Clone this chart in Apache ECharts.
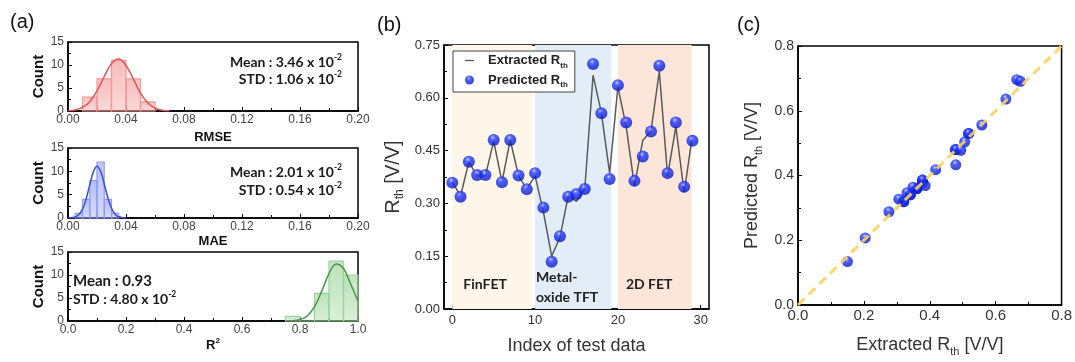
<!DOCTYPE html>
<html>
<head>
<meta charset="utf-8">
<script src="https://cdn.jsdelivr.net/npm/echarts@6/dist/echarts.min.js"></script>
<style>
  html, body { margin: 0; padding: 0; background: #fff; }
  #chart { width: 1075px; height: 362px; }
</style>
</head>
<body>
<div id="chart"></div>
<script>
// ---- (a) histograms: bin edges + counts, fitted curves
const rmseEdges = [0.01, 0.02, 0.03, 0.04, 0.05, 0.06]
const rmseCounts = [3, 7, 11, 7, 2]
const rmseFitX = [0, 0.005, 0.01, 0.015, 0.02, 0.025, 0.03, 0.035, 0.04, 0.045, 0.05, 0.055, 0.06, 0.065, 0.07]
const rmseFitY = [0.06, 0.23, 0.77, 2.0, 4.4, 7.5, 10.3, 11.3, 9.9, 7.0, 3.9, 1.8, 0.64, 0.18, 0.04]

const maeEdges = [0.005, 0.01, 0.015, 0.02, 0.025, 0.03, 0.035]
const maeCounts = [1, 4, 8, 12, 4, 1]
const maeFitX = [0, 0.005, 0.0075, 0.01, 0.0125, 0.015, 0.0175, 0.02, 0.0225, 0.025, 0.0275, 0.03, 0.0325, 0.035, 0.04]
const maeFitY = [0.01, 0.22, 0.73, 1.9, 4.1, 7.1, 9.9, 11.1, 10.0, 7.3, 4.3, 2.1, 0.79, 0.25, 0.01]

const r2Edges = [0.75, 0.8, 0.85, 0.9, 0.95, 1.0]
const r2Counts = [1, 0, 6, 13, 10]
const r2FitX = [0.78, 0.8, 0.825, 0.85, 0.875, 0.9, 0.925, 0.95, 0.975, 1.0]
const r2FitY = [0.09, 0.32, 1.1, 3.1, 6.5, 10.3, 12.4, 11.4, 8.0, 4.3]

// ---- (b) test data
const testIndex = [0, 1, 2, 3, 4, 5, 6, 7, 8, 9, 10, 11, 12, 13, 14, 15, 16, 17, 18, 19, 20, 21, 22, 23, 24, 25, 26, 27, 28, 29]
const extractedRth = [0.361, 0.321, 0.418, 0.378, 0.378, 0.477, 0.361, 0.480, 0.378, 0.341,
  0.378, 0.276, 0.150, 0.204, 0.321, 0.306, 0.341, 0.664, 0.558, 0.386,
  0.631, 0.518, 0.349, 0.479, 0.506, 0.675, 0.378, 0.518, 0.331, 0.494]
const predictedRth = [0.359, 0.319, 0.418, 0.381, 0.381, 0.480, 0.360, 0.480, 0.379, 0.340,
  0.386, 0.288, 0.134, 0.207, 0.319, 0.327, 0.341, 0.696, 0.556, 0.369,
  0.636, 0.530, 0.364, 0.433, 0.504, 0.691, 0.386, 0.530, 0.347, 0.478]
const deviceNames = ['FinFET', 'Metal-\noxide TFT', '2D FET']
const deviceStart = [0, 10, 20]
const deviceEnd = [9.6, 19.2, 28.9]

// ---- (c) parity line
const identityLine = [0, 0.8]

const FONT = 'Liberation Sans'
const BOLD = 'Lato'

// shiny blue ball marker
const ball = {
  type: 'radial', x: 0.42, y: 0.3, r: 0.6,
  colorStops: [
    { offset: 0, color: '#ffffff' },
    { offset: 0.14, color: '#6a78ff' },
    { offset: 0.42, color: '#1f34ff' },
    { offset: 1, color: '#0d1ec8' },
  ],
}

const toBins = (edges, counts) => counts.map((c, i) => [edges[i], edges[i + 1], c])
const toPairs = (xs, ys) => xs.map((x, i) => [x, ys[i]])

const histBars = (idx, edges, counts, fill, stroke) => ({
  type: 'custom',
  xAxisIndex: idx,
  yAxisIndex: idx,
  encode: { x: [0, 1], y: 2 },
  data: toBins(edges, counts),
  renderItem: (params, api) => {
    const p0 = api.coord([api.value(0), api.value(2)])
    const p1 = api.coord([api.value(1), 0])
    return {
      type: 'rect',
      shape: { x: p0[0], y: p0[1], width: p1[0] - p0[0], height: p1[1] - p0[1] },
      style: {
        fill: {
          type: 'linear', x: 0, y: 0, x2: 0, y2: 1,
          colorStops: [{ offset: 0, color: fill[0] }, { offset: 1, color: fill[1] }],
        },
        stroke,
        lineWidth: 1.2,
      },
    }
  },
  z: 2,
})

const histFit = (idx, xs, ys, color, area) => ({
  type: 'line',
  xAxisIndex: idx,
  yAxisIndex: idx,
  data: toPairs(xs, ys),
  smooth: 0.4,
  showSymbol: false,
  lineStyle: { color, width: 1.5 },
  areaStyle: { color: area },
  z: 3,
})

const frameX = (idx, max, interval, decimals, name, nameGap, labelSize) => ({
  type: 'value',
  gridIndex: idx,
  min: 0,
  max,
  interval,
  name,
  nameLocation: 'middle',
  nameGap,
  axisLine: { show: true, onZero: false, lineStyle: { color: '#000', width: 1.5 } },
  axisTick: { show: true, inside: true, length: 4, lineStyle: { color: '#000' } },
  minorTick: { show: true, splitNumber: 2, length: 3, lineStyle: { color: '#000' } },
  axisLabel: {
    fontFamily: FONT, fontSize: labelSize, color: '#444', margin: 3,
    formatter: (v) => v.toFixed(decimals),
  },
  splitLine: { show: false },
})

const frameY = (idx, min, max, interval, decimals, labelSize) => ({
  type: 'value',
  gridIndex: idx,
  min,
  max,
  interval,
  axisLine: { show: true, onZero: false, lineStyle: { color: '#000', width: 1.5 } },
  axisTick: { show: true, inside: true, length: 4, lineStyle: { color: '#000' } },
  minorTick: { show: true, splitNumber: 2, length: 3, lineStyle: { color: '#000' } },
  axisLabel: {
    fontFamily: FONT, fontSize: labelSize, color: '#444', margin: 4,
    formatter: (v) => v.toFixed(decimals),
  },
  splitLine: { show: false },
})

const histName = {
  fontFamily: FONT, fontWeight: 'bold', fontSize: 13, color: '#111',
  rich: {
    a: { fontFamily: FONT, fontWeight: 'bold', fontSize: 13, color: '#111', lineHeight: 16 },
    p: { fontFamily: FONT, fontWeight: 'bold', fontSize: 8, color: '#111', verticalAlign: 'top', lineHeight: 9 },
  },
}
const countName = { fontFamily: FONT, fontWeight: 'bold', fontSize: 15, color: '#111' }

const subRich = (size, sub, color) => ({
  a: { fontFamily: FONT, fontSize: size, color, lineHeight: size + 6 },
  s: { fontFamily: FONT, fontSize: sub, color, verticalAlign: 'bottom', lineHeight: sub + 1 },
})

const supText = (x, y, align, main, sup, size) => ({
  type: 'text',
  x,
  y,
  style: {
    text: sup ? `{m|${main}}{p|${sup}}` : `{m|${main}}`,
    align,
    verticalAlign: 'middle',
    rich: {
      m: { fontFamily: BOLD, fontWeight: 'bold', fontSize: size, fill: '#1a1a1a', lineHeight: size + 5 },
      p: { fontFamily: BOLD, fontWeight: 'bold', fontSize: 8.5, fill: '#1a1a1a', verticalAlign: 'top', lineHeight: 9 },
    },
  },
})

const panelLabel = (x, y, text) => ({
  type: 'text', x, y,
  style: { text, font: `20px "${FONT}"`, fill: '#111', verticalAlign: 'middle' },
})

const grids = [
  { left: 68, top: 42, width: 290, height: 69 },
  { left: 68, top: 148, width: 290, height: 70 },
  { left: 68, top: 252, width: 290, height: 69 },
  { left: 444, top: 45, width: 265, height: 264 },
  { left: 798, top: 46, width: 267, height: 267 },
].map((g) => ({ ...g, show: true, borderColor: '#000', borderWidth: 1.5, backgroundColor: 'transparent' }))

const xAxes = [
  { ...frameX(0, 0.2, 0.04, 2, 'RMSE', 20, 12), nameTextStyle: histName },
  { ...frameX(1, 0.2, 0.04, 2, 'MAE', 17, 12), nameTextStyle: histName },
  { ...frameX(2, 1, 0.2, 1, '{a|R}{p|2}', 16, 12), nameTextStyle: histName },
  {
    ...frameX(3, 31, 10, 0, 'Index of test data', 28, 13),
    min: -1,
    axisLabel: { fontFamily: FONT, fontSize: 13, color: '#333', margin: 5, customValues: [0, 10, 20, 30] },
    axisTick: { show: true, inside: true, length: 4, lineStyle: { color: '#000' }, customValues: [0, 10, 20, 30] },
    minorTick: { show: false },
    nameTextStyle: { fontFamily: FONT, fontSize: 18, color: '#333' },
  },
  {
    ...frameX(4, 0.8, 0.2, 1, '{a|Extracted R}{s|th}{a| [V/V]}', 28, 15),
    nameTextStyle: { rich: subRich(18, 11, '#333') },
  },
]
xAxes[4].axisLabel.color = '#333'

const yAxes = [
  { ...frameY(0, 0, 15, 5, 0, 12), name: 'Count', nameLocation: 'middle', nameGap: 20, nameTextStyle: countName },
  { ...frameY(1, 0, 15, 5, 0, 12), name: 'Count', nameLocation: 'middle', nameGap: 20, nameTextStyle: countName },
  { ...frameY(2, 0, 15, 5, 0, 12), name: 'Count', nameLocation: 'middle', nameGap: 20, nameTextStyle: countName },
  {
    ...frameY(3, 0, 0.75, 0.15, 2, 13),
    name: '{a|R}{s|th}{a| [V/V]}', nameLocation: 'middle', nameGap: 38,
    nameTextStyle: { rich: subRich(20, 12, '#333') },
  },
  {
    ...frameY(4, 0, 0.8, 0.2, 1, 14),
    name: '{a|Predicted R}{s|th}{a| [V/V]}', nameLocation: 'middle', nameGap: 34,
    nameTextStyle: { rich: subRich(18, 11, '#333') },
  },
]
yAxes[3].axisLabel.color = '#333'
yAxes[4].axisLabel.color = '#333'

const bandColors = ['#fdf6e9', '#e3edf8', '#fce6da']
const bandLabelPos = [[11, 239], [1, 242], [8, 239]]

const option = {
  animation: false,
  backgroundColor: '#fff',
  grid: grids,
  xAxis: xAxes,
  yAxis: yAxes,
  legend: {
    data: [
      { name: 'Extracted', icon: 'path://M0,0 L10,0 L10,1.4 L0,1.4 Z', itemStyle: { color: '#555' } },
      { name: 'Predicted', icon: 'circle' },
    ],
    orient: 'vertical',
    left: 453,
    top: 51,
    padding: [3, 7, 3, 12],
    itemGap: 4,
    itemWidth: 9,
    itemHeight: 9,
    symbolKeepAspect: true,
    borderColor: '#444',
    borderWidth: 1,
    backgroundColor: '#fff',
    formatter: (name) => `{b|${name} R}{s|th}`,
    textStyle: {
      rich: {
        b: { fontFamily: FONT, fontWeight: 'bold', fontSize: 13, color: '#222', lineHeight: 18, padding: [0, 0, 0, 9] },
        s: { fontFamily: FONT, fontWeight: 'bold', fontSize: 8, color: '#222', verticalAlign: 'bottom', lineHeight: 9 },
      },
    },
  },
  graphic: [
    panelLabel(10, 22, '(a)'),
    panelLabel(377, 25, '(b)'),
    panelLabel(737, 25, '(c)'),
    supText(342, 62, 'right', 'Mean : 3.46 x 10', '-2', 14),
    supText(342, 79, 'right', 'STD : 1.06 x 10', '-2', 14),
    supText(342, 172, 'right', 'Mean : 2.01 x 10', '-2', 14),
    supText(342, 190, 'right', 'STD : 0.54 x 10', '-2', 14),
    supText(73, 281, 'left', 'Mean : 0.93', null, 15),
    supText(73, 299, 'left', 'STD : 4.80 x 10', '-2', 14),
  ],
  series: [
    histBars(0, rmseEdges, rmseCounts, ['rgba(240,120,120,0.45)', 'rgba(240,120,120,0.2)'], '#f39a9a'),
    histFit(0, rmseFitX, rmseFitY, '#e25555', 'rgba(240,120,120,0.12)'),
    histBars(1, maeEdges, maeCounts, ['rgba(110,125,240,0.45)', 'rgba(110,125,240,0.2)'], '#93a0f2'),
    histFit(1, maeFitX, maeFitY, '#3a4fd6', 'rgba(110,125,240,0.12)'),
    histBars(2, r2Edges, r2Counts, ['rgba(120,195,120,0.45)', 'rgba(120,195,120,0.2)'], '#9ed49e'),
    histFit(2, r2FitX, r2FitY, '#4a944a', 'rgba(120,195,120,0.12)'),
    {
      name: 'Extracted',
      type: 'line',
      xAxisIndex: 3,
      yAxisIndex: 3,
      data: toPairs(testIndex, extractedRth),
      showSymbol: false,
      symbol: 'none',
      lineStyle: { color: '#5a5a5a', width: 1.5 },
      itemStyle: { color: '#5a5a5a' },
      z: 3,
      markArea: {
        silent: true,
        data: deviceNames.map((name, i) => [
          {
            name,
            xAxis: deviceStart[i],
            itemStyle: { color: bandColors[i] },
            label: {
              show: true,
              position: bandLabelPos[i],
              align: 'left',
              verticalAlign: 'middle',
              fontFamily: BOLD,
              fontWeight: 'bold',
              fontSize: 14,
              lineHeight: 20,
              color: '#222',
            },
          },
          { xAxis: deviceEnd[i] },
        ]),
      },
    },
    {
      name: 'Predicted',
      type: 'scatter',
      xAxisIndex: 3,
      yAxisIndex: 3,
      data: toPairs(testIndex, predictedRth),
      symbolSize: 12,
      itemStyle: { color: ball },
      z: 4,
    },
    {
      type: 'line',
      xAxisIndex: 4,
      yAxisIndex: 4,
      data: toPairs(identityLine, identityLine),
      showSymbol: false,
      lineStyle: { color: '#fbd25e', width: 3, type: [9, 6], opacity: 0.9 },
      z: 5,
    },
    {
      type: 'scatter',
      xAxisIndex: 4,
      yAxisIndex: 4,
      data: toPairs(extractedRth, predictedRth),
      symbolSize: 11,
      itemStyle: { color: ball },
      z: 4,
    },
  ],
}

const chart = echarts.init(document.getElementById('chart'))
chart.setOption(option)
</script>
</body>
</html>
